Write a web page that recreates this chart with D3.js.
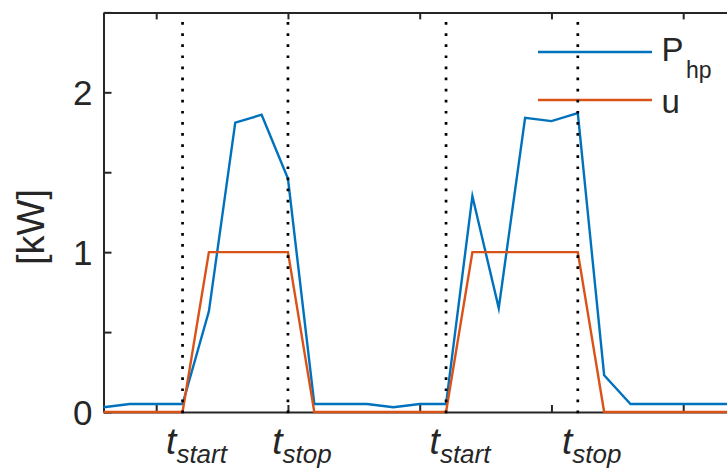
<!DOCTYPE html>
<html>
<head>
<meta charset="utf-8">
<script src="https://cdn.jsdelivr.net/npm/d3@7/dist/d3.min.js"></script>
<style>
  body { margin: 0; background: #fff; }
  text { font-family: "Liberation Sans", Arial, Helvetica, sans-serif; fill: #262626; }
</style>
</head>
<body>
<svg id="chart" width="727" height="468"></svg>
<script>
// Sample index (one step per control interval)
const sampleIndex = [0, 1, 2, 3, 4, 5, 6, 7, 8, 9, 10, 11, 12, 13, 14, 15, 16, 17, 18, 19, 20, 21, 22, 23, 24];
// Heat pump electrical power P_hp [kW]
const heatPumpPower = [0.03, 0.05, 0.05, 0.05, 0.63, 1.81, 1.86, 1.46, 0.05, 0.05, 0.05, 0.03, 0.05, 0.05,
                       1.35, 0.65, 1.84, 1.82, 1.87, 0.23, 0.05, 0.05, 0.05, 0.05, 0.05];
// On/off control signal u
const controlSignal = [0, 0, 0, 0, 1, 1, 1, 1, 0, 0, 0, 0, 0, 0, 1, 1, 1, 1, 1, 0, 0, 0, 0, 0, 0];
// Switching instants
const startTimes = [3, 13];
const stopTimes = [7, 18];
// Axis ticks
const xTickValues = [2, 7, 12, 17, 22];
const yTickValues = [0, 0.5, 1, 1.5, 2, 2.5];
const yTickLabels = ["0", "", "1", "", "2", ""];
const yLabel = "[kW]";

const blue = "#0072BD";
const orange = "#D95319";
const axisColor = "#262626";

const svg = d3.select("#chart");
svg.append("rect").attr("width", 727).attr("height", 468).attr("fill", "#fff");

const plotLeft = 103.5, plotTop = 12.4, plotBottom = 412, step = 26.35;
const x = d3.scaleLinear().domain([0, 24]).range([plotLeft, plotLeft + 24 * step]);
const y = d3.scaleLinear().domain([0, 2.5]).range([plotBottom, plotTop]);

function styleAxis(g) {
  g.select(".domain").attr("stroke", axisColor).attr("stroke-width", 2);
  g.selectAll(".tick line").attr("stroke", axisColor).attr("stroke-width", 2);
  g.selectAll(".tick text").attr("fill", axisColor).style("font-size", "35px")
    .style("font-family", "'Liberation Sans', Arial, sans-serif");
}

// Box axes: bottom, top, left
svg.append("g").attr("transform", `translate(0,${plotBottom})`)
  .call(d3.axisBottom(x).tickValues(xTickValues).tickSizeInner(-7).tickSizeOuter(0).tickFormat(""))
  .call(styleAxis);
svg.append("g").attr("transform", `translate(0,${plotTop})`)
  .call(d3.axisTop(x).tickValues(xTickValues).tickSizeInner(-7).tickSizeOuter(0).tickFormat(""))
  .call(styleAxis);
svg.append("g").attr("transform", `translate(${plotLeft},0)`)
  .call(d3.axisLeft(y).tickValues(yTickValues).tickSizeInner(-8).tickSizeOuter(0).tickPadding(11)
    .tickFormat((d, i) => yTickLabels[i]))
  .call(g => g.selectAll(".tick text").attr("dy", "0.36em"))
  .call(styleAxis);

// Y axis label
svg.append("text")
  .attr("transform", "translate(44,227) rotate(-90)")
  .attr("text-anchor", "middle")
  .style("font-size", "38px")
  .text(yLabel);

// Series lines
const line = d3.line().x((d, i) => x(sampleIndex[i])).y(d => y(d));
svg.append("path").datum(heatPumpPower)
  .attr("d", line).attr("fill", "none").attr("stroke", blue)
  .attr("stroke-width", 2.4).attr("stroke-linejoin", "miter").attr("stroke-miterlimit", 10);
svg.append("path").datum(controlSignal)
  .attr("d", line).attr("fill", "none").attr("stroke", orange)
  .attr("stroke-width", 2.4).attr("stroke-linejoin", "miter");

// Legend
const legend = svg.append("g");
const legendItems = [
  { color: blue, main: "P", sub: "hp", y: 52 },
  { color: orange, main: "u", sub: "", y: 100 }
];
legendItems.forEach(item => {
  legend.append("line").attr("x1", 538).attr("x2", 652)
    .attr("y1", item.y).attr("y2", item.y)
    .attr("stroke", item.color).attr("stroke-width", 2.4);
  const t = legend.append("text").attr("x", 661.5).attr("y", item.y + (item.sub ? 9 : 12.5))
    .style("font-size", "33px");
  t.append("tspan").text(item.main);
  if (item.sub) {
    t.append("tspan").attr("x", 686).attr("dy", 16.5).style("font-size", "23px").text(item.sub);
  }
});

// Switching markers: dotted vertical lines and labels
const events = startTimes.map(t => ({ t, name: "start" }))
  .concat(stopTimes.map(t => ({ t, name: "stop" })));
svg.selectAll("line.event").data(events).enter().append("line")
  .attr("class", "event")
  .attr("x1", d => x(d.t)).attr("x2", d => x(d.t))
  .attr("y1", plotBottom + 1.3).attr("y2", plotTop + 5)
  .attr("stroke", "#000").attr("stroke-width", 2.7)
  .attr("stroke-dasharray", "2.7 8.4");

const labels = svg.selectAll("text.event").data(events).enter().append("text")
  .attr("class", "event")
  .attr("x", d => x(d.t) + 14).attr("y", 454)
  .attr("text-anchor", "middle")
  .style("font-style", "italic");
labels.append("tspan").style("font-size", "37px").text("t");
labels.append("tspan").attr("dy", 8.5).style("font-size", "26px").text(d => d.name);
</script>
</body>
</html>
